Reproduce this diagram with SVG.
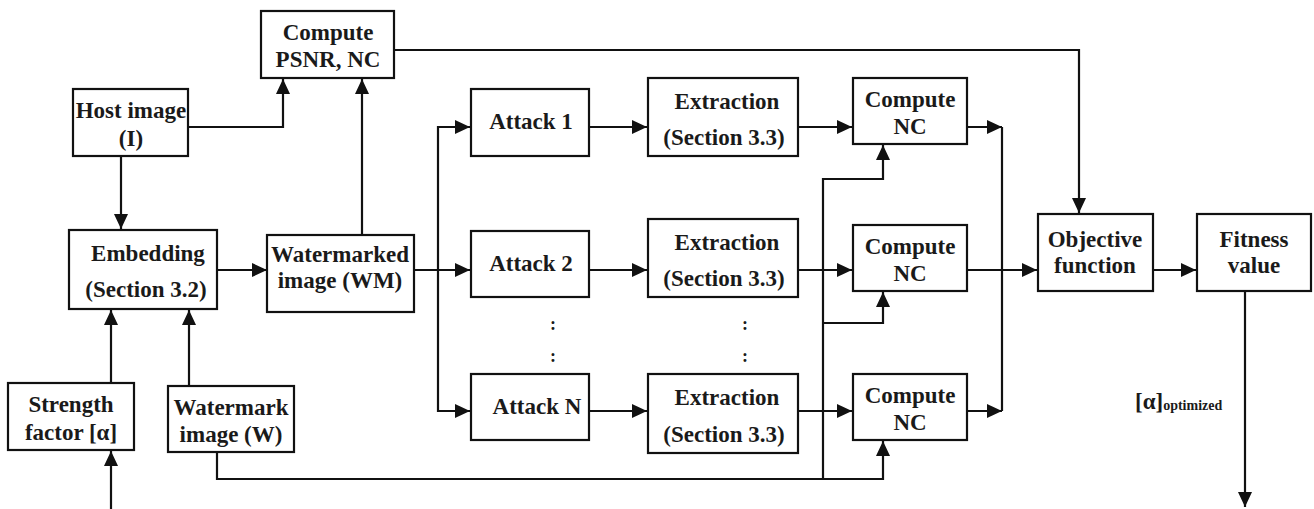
<svg xmlns="http://www.w3.org/2000/svg" width="1314" height="509" viewBox="0 0 1314 509">
<style>
.box{fill:#fff;stroke:#111;stroke-width:2.2}
.t{font-family:'Liberation Serif','Times New Roman','DejaVu Serif',serif;font-weight:700;font-size:23px;fill:#1a1a1a;text-anchor:middle}
.c{fill:none;stroke:#111;stroke-width:2.2}
</style>
<defs>
<marker id="ah" markerUnits="userSpaceOnUse" viewBox="0 0 15 14" markerWidth="15" markerHeight="14" refX="15" refY="7" orient="auto">
<path d="M0,0 L15,7 L0,14 z" fill="#111"/>
</marker>
</defs>
<rect width="1314" height="509" fill="#fff"/>
<g id="connectors">
<path class="c" d="M188,127 H283 V79" marker-end="url(#ah)"/>
<path class="c" d="M362,235 V79" marker-end="url(#ah)"/>
<path class="c" d="M394,50 H1079 V213" marker-end="url(#ah)"/>
<path class="c" d="M121,156 V229" marker-end="url(#ah)"/>
<path class="c" d="M217,270 H267" marker-end="url(#ah)"/>
<path class="c" d="M111,383 V310" marker-end="url(#ah)"/>
<path class="c" d="M189,386 V310" marker-end="url(#ah)"/>
<path class="c" d="M111,509 V451" marker-end="url(#ah)"/>
<path class="c" d="M414,270 H470" marker-end="url(#ah)"/>
<path class="c" d="M438,270 V127 H470" marker-end="url(#ah)"/>
<path class="c" d="M438,270 V411 H470" marker-end="url(#ah)"/>
<path class="c" d="M589,127 H647" marker-end="url(#ah)"/>
<path class="c" d="M589,270 H647" marker-end="url(#ah)"/>
<path class="c" d="M589,411 H647" marker-end="url(#ah)"/>
<path class="c" d="M798,127 H852" marker-end="url(#ah)"/>
<path class="c" d="M798,270 H852" marker-end="url(#ah)"/>
<path class="c" d="M798,411 H852" marker-end="url(#ah)"/>
<path class="c" d="M217,452 V479 H883 V441" marker-end="url(#ah)"/>
<path class="c" d="M823,479 V179 H883 V145" marker-end="url(#ah)"/>
<path class="c" d="M823,323 H883 V292" marker-end="url(#ah)"/>
<path class="c" d="M967,127 H1002" marker-end="url(#ah)"/>
<path class="c" d="M967,411 H1002" marker-end="url(#ah)"/>
<path class="c" d="M1002,127 V411"/>
<path class="c" d="M967,270 H1037" marker-end="url(#ah)"/>
<path class="c" d="M1153,270 H1196" marker-end="url(#ah)"/>
<path class="c" d="M1245,291 V507" marker-end="url(#ah)"/>
</g>
<g id="psnr"><rect class="box" x="261" y="11" width="133" height="67"/><text class="t" x="328" y="40">Compute</text><text class="t" x="328" y="67">PSNR, NC</text></g>
<g id="host"><rect class="box" x="73" y="89" width="115" height="67"/><text class="t" x="131" y="118">Host image</text><text class="t" x="131" y="146">(I)</text></g>
<g id="embedding"><rect class="box" x="69" y="230" width="148" height="79"/><text class="t" x="148" y="261">Embedding</text><text class="t" x="146" y="297">(Section 3.2)</text></g>
<g id="watermarked"><rect class="box" x="267" y="235" width="147" height="77"/><text class="t" x="340" y="262">Watermarked</text><text class="t" x="340" y="288">image (WM)</text></g>
<g id="strength"><rect class="box" x="8" y="383" width="126" height="67"/><text class="t" x="71" y="412">Strength</text><text class="t" x="71" y="440">factor [α]</text></g>
<g id="watermark"><rect class="box" x="168" y="386" width="126" height="66"/><text class="t" x="231" y="415">Watermark</text><text class="t" x="231" y="442">image (W)</text></g>
<g id="attack1"><rect class="box" x="471" y="89" width="118" height="67"/><text class="t" x="531" y="129">Attack 1</text></g>
<g id="attack2"><rect class="box" x="471" y="231" width="118" height="66"/><text class="t" x="531" y="271">Attack 2</text></g>
<g id="attackN"><rect class="box" x="471" y="374" width="118" height="66"/><text class="t" x="537" y="414">Attack N</text></g>
<g id="dots"><text class="t" x="553" y="330" style="font-size:18px">:</text><text class="t" x="553" y="362" style="font-size:18px">:</text><text class="t" x="745" y="330" style="font-size:18px">:</text><text class="t" x="745" y="362" style="font-size:18px">:</text></g>
<g id="extract1"><rect class="box" x="648" y="78" width="150" height="78"/><text class="t" x="727" y="109">Extraction</text><text class="t" x="724" y="145">(Section 3.3)</text></g>
<g id="extract2"><rect class="box" x="648" y="219" width="150" height="78"/><text class="t" x="727" y="250">Extraction</text><text class="t" x="724" y="286">(Section 3.3)</text></g>
<g id="extractN"><rect class="box" x="648" y="374" width="150" height="79"/><text class="t" x="727" y="405">Extraction</text><text class="t" x="724" y="442">(Section 3.3)</text></g>
<g id="nc1"><rect class="box" x="853" y="78" width="114" height="66"/><text class="t" x="910" y="107">Compute</text><text class="t" x="910" y="134">NC</text></g>
<g id="nc2"><rect class="box" x="853" y="225" width="114" height="66"/><text class="t" x="910" y="254">Compute</text><text class="t" x="910" y="281">NC</text></g>
<g id="ncN"><rect class="box" x="853" y="374" width="114" height="66"/><text class="t" x="910" y="403">Compute</text><text class="t" x="910" y="430">NC</text></g>
<g id="objective"><rect class="box" x="1038" y="214" width="115" height="77"/><text class="t" x="1095" y="247">Objective</text><text class="t" x="1095" y="273">function</text></g>
<g id="fitness"><rect class="box" x="1197" y="214" width="114" height="77"/><text class="t" x="1254" y="247">Fitness</text><text class="t" x="1254" y="273">value</text></g>
<g id="label"><text class="t" x="1135" y="409" style="text-anchor:start">[α]<tspan style="font-size:14px" dy="1">optimized</tspan></text></g>
</svg>
